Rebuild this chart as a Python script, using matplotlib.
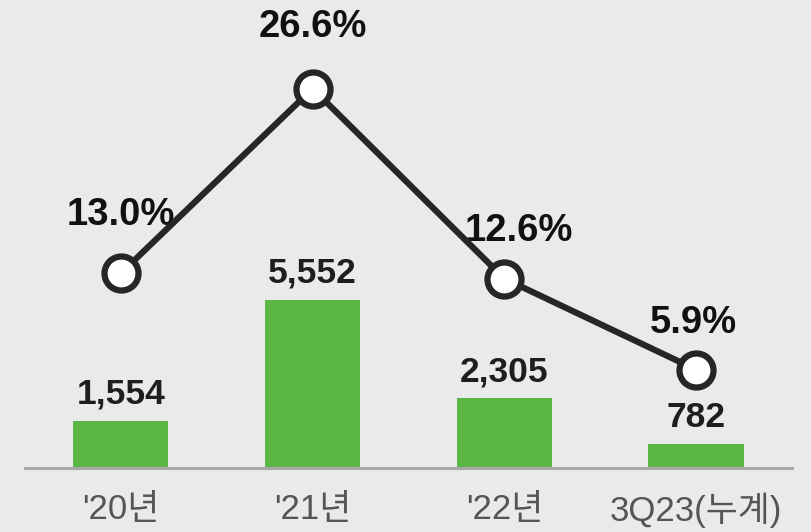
import matplotlib.pyplot as plt

# 데이터
categories = ["'20년", "'21년", "'22년", "3Q23(누계)"]
values = [1554, 5552, 2305, 782]
value_labels = ["1,554", "5,552", "2,305", "782"]
rates = [13.0, 26.6, 12.6, 5.9]
rate_labels = ["13.0%", "26.6%", "12.6%", "5.9%"]

# 라벨 위치 보정 (pixel)
rate_offsets = [(0, 58), (0, 62), (14, 48), (-3, 47)]

plt.rcParams['font.family'] = ['Liberation Sans', 'Noto Sans CJK KR', 'DejaVu Sans']

bg = '#e9ebea'
fig = plt.figure(figsize=(8.12, 5.32), dpi=100, facecolor=bg)
ax = fig.add_axes([0, 0, 1, 1])
ax.set_facecolor(bg)

x = list(range(len(categories)))
ax.bar(x, values, width=0.496, color='#5cb646', zorder=2)
ax.set_xlim(-0.631, 3.605)
ax.set_ylim(-2119, 15497)

# 기준선
ax.axhline(0, xmin=25 / 812, xmax=792 / 812, color='#a8a8a8', lw=2.2, zorder=3)

for i, lab in enumerate(value_labels):
    ax.annotate(lab, (x[i], values[i]), xytext=(0, 12.5), textcoords='offset points',
                ha='center', va='baseline', fontsize=25.5, fontweight='bold', color='#1e1e1e')

for i, cat in enumerate(categories):
    ax.text(x[i], 22 / 532, cat, transform=ax.get_xaxis_transform(),
            ha='center', va='center', fontsize=25, color='#555555')

# 이익률 (보조축)
ax2 = ax.twinx()
ax2.set_ylim(-6.07, 33.13)
ax2.plot(x, rates, color='#262626', lw=4.5, marker='o', markersize=24.5,
         markerfacecolor='white', markeredgecolor='#262626', markeredgewidth=4.5, zorder=4)

for i, lab in enumerate(rate_labels):
    dx, dy = rate_offsets[i]
    ax2.annotate(lab, (x[i], rates[i]), xytext=(dx * 0.72, dy * 0.72), textcoords='offset points',
                 ha='center', va='center', fontsize=27.5, fontweight='bold', color='#111111')

for a in (ax, ax2):
    a.axis('off')

plt.savefig('out.png', dpi=100, facecolor=bg)
